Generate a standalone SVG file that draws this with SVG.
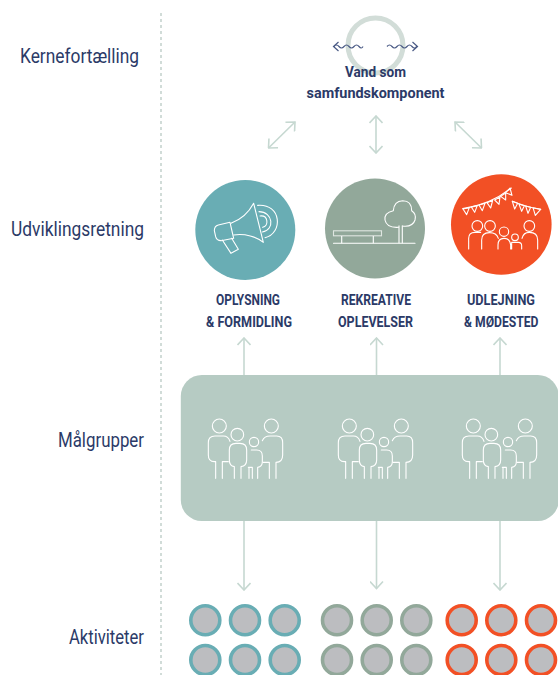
<svg xmlns="http://www.w3.org/2000/svg" xmlns:xlink="http://www.w3.org/1999/xlink" width="558" height="675" viewBox="0 0 558 675">
<style>
text{font-family:Roboto,"Liberation Sans",sans-serif;fill:#2b3a67}
.row{font-size:20px;font-weight:400}
.lab{font-size:15px;font-weight:700;text-anchor:start}
.con{fill:none;stroke:#c6d8d1;stroke-width:1.6;marker-start:url(#h);marker-end:url(#h)}
.one{fill:none;stroke:#c6d8d1;stroke-width:1.6;marker-end:url(#h)}
.ic{fill:none;stroke:#fff;stroke-width:3.3;stroke-linecap:round;stroke-linejoin:round}
.wv{fill:none;stroke:#4a5a85;stroke-width:1.2}
.g circle{fill:#bcbdc0;stroke-width:3.6}
.t circle{stroke:#69adb4}.s circle{stroke:#92a89a}.o circle{stroke:#f25025}
</style>
<defs>
<marker id="h" viewBox="-9 -7 10 14" refX="0" refY="0" markerUnits="userSpaceOnUse" markerWidth="10" markerHeight="14" orient="auto-start-reverse">
<path d="M-7,-6.5 L0,0 L-7,6.5" fill="none" stroke="#c6d8d1" stroke-width="1.6"/>
</marker>
<g id="fam" class="ic">
<circle cx="133" cy="168" r="21"/>
<path d="M122,325V275H118Q100,275 100,255V218Q100,198 120,198H145Q160,198 165,214M142,325V275H160"/>
<circle cx="187" cy="194" r="19"/>
<path d="M178,325V290Q163,288 163,270V240Q163,220 183,220H195Q215,220 215,240V270Q215,288 198,290V325"/>
<circle cx="237" cy="216" r="14"/>
<path d="M229,240H245Q262,240 262,258V275Q262,290 248,292V325M232,325V292H220M222,292V325"/>
<circle cx="289" cy="168" r="21"/>
<path d="M262,212Q268,198 285,198H305Q323,198 323,218V255Q323,277 303,277V325M283,325V277H264"/>
</g>
</defs>

<path id="divider" d="M161,13V675" fill="none" stroke="#c6d4cf" stroke-width="1.6" stroke-dasharray="3 3"/>

<g id="row-labels">
<text class="row" x="20" y="63" textLength="119" lengthAdjust="spacingAndGlyphs">Kernefortælling</text>
<text class="row" x="11" y="236" textLength="133" lengthAdjust="spacingAndGlyphs">Udviklingsretning</text>
<text class="row" x="58" y="447" textLength="86" lengthAdjust="spacingAndGlyphs">Målgrupper</text>
<text class="row" x="69" y="644" textLength="75" lengthAdjust="spacingAndGlyphs">Aktiviteter</text>
</g>

<g id="connectors">
<path class="con" d="M268.500,148L295,122"/>
<path class="con" d="M376,116V153"/>
<path class="con" d="M455,122L481.500,148"/>
<path class="one" d="M244,376V338"/>
<path class="one" d="M376.500,376V338"/>
<path class="one" d="M500,376V338"/>
<path class="one" d="M244,520V590"/>
<path class="one" d="M376.500,520V588.500"/>
<path class="one" d="M500,520V590"/>
</g>

<g id="core">
<circle cx="375.500" cy="45.500" r="27.500" fill="none" stroke="#d2ddd8" stroke-width="5"/>
<path class="wv" d="M334,46.500q2.500,-3 5,0t5,0t5,0t5,0t5,0t4,0M338.500,42L333.500,46.500L338.500,51"/>
<path class="wv" d="M387,46.500q2.500,-3 5,0t5,0t5,0t5,0t5,0t4.500,0M412.500,42L417.500,46.500L412.500,51"/>
<text class="lab" x="345" y="77" textLength="61" lengthAdjust="spacingAndGlyphs">Vand som</text>
<text class="lab" x="306.500" y="98" textLength="138" lengthAdjust="spacingAndGlyphs">samfundskomponent</text>
</g>

<g id="oplysning">
<circle cx="245.300" cy="230" r="50" fill="#69adb4"/>
<g class="ic" transform="translate(185,170) scale(.33333)">
<path d="M138,160C165,150 190,130 206,100L235,217C215,200 180,190 146,195"/>
<path d="M100,165L135,157L146,205L108,212Q95,212 92,200L88,182Q88,168 100,165Z"/>
<path d="M112,210L138,250L160,238L140,205"/>
<path d="M218,106C290,100 295,190 240,203"/>
<path d="M222,125C265,125 270,180 232,186"/>
<path d="M225,138C250,135 252,168 233,172"/>
</g>
<text class="lab" x="216" y="305" textLength="64" lengthAdjust="spacingAndGlyphs">OPLYSNING</text>
<text class="lab" x="206" y="326.500" textLength="86" lengthAdjust="spacingAndGlyphs">&amp; FORMIDLING</text>
</g>

<g id="rekreative">
<circle cx="375" cy="228.500" r="50" fill="#92a89a"/>
<g fill="none" stroke="#fff" stroke-width="1.1">
<path d="M333.500,243.300H415" stroke-linecap="round"/>
<rect x="333.500" y="230.800" width="48" height="5" fill="none" stroke="#dfe6e1"/>
<path d="M341.700,236V243.300M373.300,236V243.300M399,225.500V243.300M402.300,225.500V243.300"/>
<path d="M399,227.300Q386.700,228.300 385,220Q384,212.700 393.300,210.700Q394,201 402.700,200.700Q411.700,200.700 411.700,210.700Q416.700,214 415,220Q412.700,227.300 402.300,226" stroke-linejoin="round"/>
</g>
<text class="lab" x="341" y="305" textLength="70" lengthAdjust="spacingAndGlyphs">REKREATIVE</text>
<text class="lab" x="338" y="326.500" textLength="75" lengthAdjust="spacingAndGlyphs">OPLEVELSER</text>
</g>

<g id="udlejning">
<circle cx="501.300" cy="224.500" r="50.300" fill="#f25025"/>
<g class="ic" transform="translate(370,170) scale(.33333)">
<path d="M278,116Q360,105 424,54"/>
<path d="M279,117L298,113L290,134ZM304,111L322,106L314,127ZM327,105L345,100L337,122ZM351,98L368,91L362,114ZM374,90L390,81L387,103ZM392,79L407,69L407,90ZM407,68L420,54L426,76Z"/>
<path d="M427,94Q470,112 512,118"/>
<path d="M427,94L443,100L434,117ZM447,102L463,107L455,124ZM467,108L482,112L474,130ZM489,113L512,118L496,136Z"/>
<circle cx="322" cy="168" r="16"/>
<circle cx="360" cy="168" r="16"/>
<circle cx="402" cy="185" r="14"/>
<circle cx="435" cy="202" r="10"/>
<circle cx="478" cy="168" r="16"/>
<path d="M296,237V205Q296,187 315,187H332M335,237V210Q335,188 358,188Q380,188 385,205M384,237V225Q384,205 402,205Q420,205 422,225V237M425,237V217H445Q455,217 455,227V237M456,205Q460,187 478,187Q503,187 503,210V237"/>
</g>
<text class="lab" x="467" y="305" textLength="68" lengthAdjust="spacingAndGlyphs">UDLEJNING</text>
<text class="lab" x="464" y="326.500" textLength="74.500" lengthAdjust="spacingAndGlyphs">&amp; MØDESTED</text>
</g>

<g id="malgrupper">
<rect x="180.800" y="375" width="378" height="146" rx="21" fill="#b6cbc3"/>
<use xlink:href="#fam" href="#fam" transform="translate(175,370) scale(.33333)"/>
<use xlink:href="#fam" href="#fam" transform="translate(305,370) scale(.33333)"/>
<use xlink:href="#fam" href="#fam" transform="translate(429,370) scale(.33333)"/>
</g>

<g id="aktiviteter-teal" class="g t">
<circle cx="205.300" cy="620.300" r="14.500"/><circle cx="245" cy="620.300" r="14.500"/><circle cx="284.700" cy="620.300" r="14.500"/>
<circle cx="205.300" cy="660" r="14.500"/><circle cx="245" cy="660" r="14.500"/><circle cx="284.700" cy="660" r="14.500"/>
</g>
<g id="aktiviteter-groen" class="g s">
<circle cx="337" cy="620.300" r="14.500"/><circle cx="376.700" cy="620.300" r="14.500"/><circle cx="416.300" cy="620.300" r="14.500"/>
<circle cx="337" cy="660" r="14.500"/><circle cx="376.700" cy="660" r="14.500"/><circle cx="416.300" cy="660" r="14.500"/>
</g>
<g id="aktiviteter-orange" class="g o">
<circle cx="461.700" cy="620.300" r="14.500"/><circle cx="501.300" cy="620.300" r="14.500"/><circle cx="541" cy="620.300" r="14.500"/>
<circle cx="461.700" cy="660" r="14.500"/><circle cx="501.300" cy="660" r="14.500"/><circle cx="541" cy="660" r="14.500"/>
</g>
</svg>
